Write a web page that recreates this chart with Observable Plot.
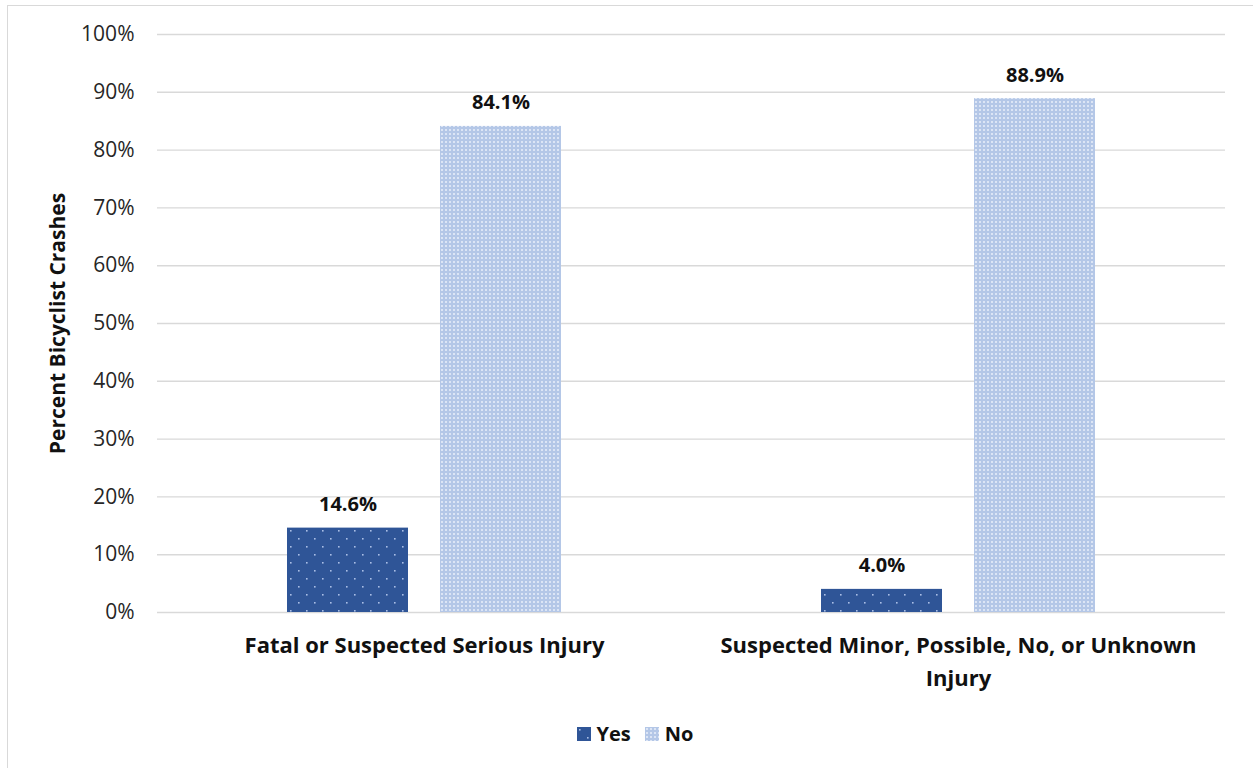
<!DOCTYPE html>
<html>
<head>
<meta charset="utf-8">
<script src="https://cdn.jsdelivr.net/npm/d3@7"></script>
<script src="https://cdn.jsdelivr.net/npm/@observablehq/plot@0.6"></script>
<style>
  html, body { margin: 0; padding: 0; background: #fff; }
  body { width: 1253px; height: 768px; position: relative; overflow: hidden; font-family: "Open Sans", sans-serif; }
  .frame { position: absolute; left: 7px; top: 5px; right: 0; bottom: -10px; border-left: 1.5px solid #d9d9d9; border-top: 1.5px solid #d9d9d9; }
  #chart { position: absolute; left: 0; top: 0; }
  #defs { position: absolute; width: 0; height: 0; }
  .legend { position: absolute; top: 720px; left: 0; width: 1253px; padding-left: 17px; box-sizing: border-box; display: flex; justify-content: center; gap: 14px; font-weight: 700; font-size: 20px; color: #111; }
  .legend .item { display: flex; align-items: center; gap: 6px; }
  .legend svg { display: block; }
</style>
</head>
<body>
<div class="frame"></div>
<svg id="defs" width="0" height="0">
  <defs>
    <pattern id="pYes" width="16" height="16" patternUnits="userSpaceOnUse">
      <rect width="16" height="16" fill="#2F5597"></rect>
      <rect x="2" y="2" width="1.6" height="1.6" fill="#A9BEE6"></rect>
      <rect x="10" y="10" width="1.6" height="1.6" fill="#A9BEE6"></rect>
    </pattern>
    <pattern id="pNo" width="4" height="4" patternUnits="userSpaceOnUse">
      <rect width="4" height="4" fill="#B4C7E7"></rect>
      <rect x="1" y="1" width="2" height="2" fill="#DCE5F5"></rect>
    </pattern>
  </defs>
</svg>
<div id="chart"></div>
<div class="legend" id="legend"></div>
<script>
const categories = ["Fatal or Suspected Serious Injury", "Suspected Minor, Possible, No, or Unknown Injury"];
const categoryLabels = ["Fatal or Suspected Serious Injury", "Suspected Minor, Possible, No, or Unknown\nInjury"];
const series = ["Yes", "No"];
const yesValues = [14.6, 4.0];
const noValues = [84.1, 88.9];
const yTicks = [0, 10, 20, 30, 40, 50, 60, 70, 80, 90, 100];
const yLabel = "Percent Bicyclist Crashes";
const patternFills = ["url(#pYes)", "url(#pNo)"];

const data = [];
categories.forEach((c, i) => {
  data.push({category: c, series: "Yes", value: yesValues[i]});
  data.push({category: c, series: "No", value: noValues[i]});
});

const chart = Plot.plot({
  width: 1253,
  height: 700,
  marginLeft: 157,
  marginRight: 28,
  marginTop: 34,
  marginBottom: 88,
  style: {fontFamily: "'Open Sans', sans-serif", background: "transparent", overflow: "visible"},
  fx: {domain: categories, padding: 0, label: null, axis: null},
  x: {domain: series, paddingInner: 0.21, paddingOuter: 0.85, axis: null},
  y: {domain: [0, 100], label: null, axis: null},
  color: {domain: series, range: patternFills},
  marks: [
    Plot.gridY(yTicks, {stroke: "#d9d9d9", strokeOpacity: 1, strokeWidth: 1.4}),
    Plot.barY(data, {fx: "category", x: "series", y: "value", fill: "series"}),
    Plot.text(data, {
      fx: "category", x: "series", y: "value",
      text: d => d.value.toFixed(1) + "%",
      lineAnchor: "bottom", dy: -17,
      fontWeight: 700, fontSize: 20, fill: "#111"
    }),
    Plot.axisY({
      ticks: yTicks, tickFormat: d => d + "%", tickSize: 0, tickPadding: 23,
      fontSize: 21, fill: "#262626", label: null
    }),
    Plot.axisFx({
      anchor: "bottom", tickSize: 0, tickPadding: 17,
      tickFormat: d => categoryLabels[categories.indexOf(d)],
      fontSize: 22, fontWeight: 700, fill: "#111", lineHeight: 1.5, label: null
    }),
    Plot.text([{category: categories[0]}], {
      fx: "category", frameAnchor: "left", textAnchor: "middle", lineAnchor: "middle",
      rotate: -90, dx: -99,
      text: () => yLabel, fontWeight: 700, fontSize: 21, fill: "#111"
    })
  ]
});
document.getElementById("chart").appendChild(chart);

const legend = d3.select("#legend");
series.forEach((s, i) => {
  const item = legend.append("div").attr("class", "item");
  item.append("svg").attr("width", 14).attr("height", 14)
    .append("rect").attr("width", 14).attr("height", 14).attr("fill", patternFills[i]);
  item.append("span").text(s);
});
</script>
</body>
</html>
